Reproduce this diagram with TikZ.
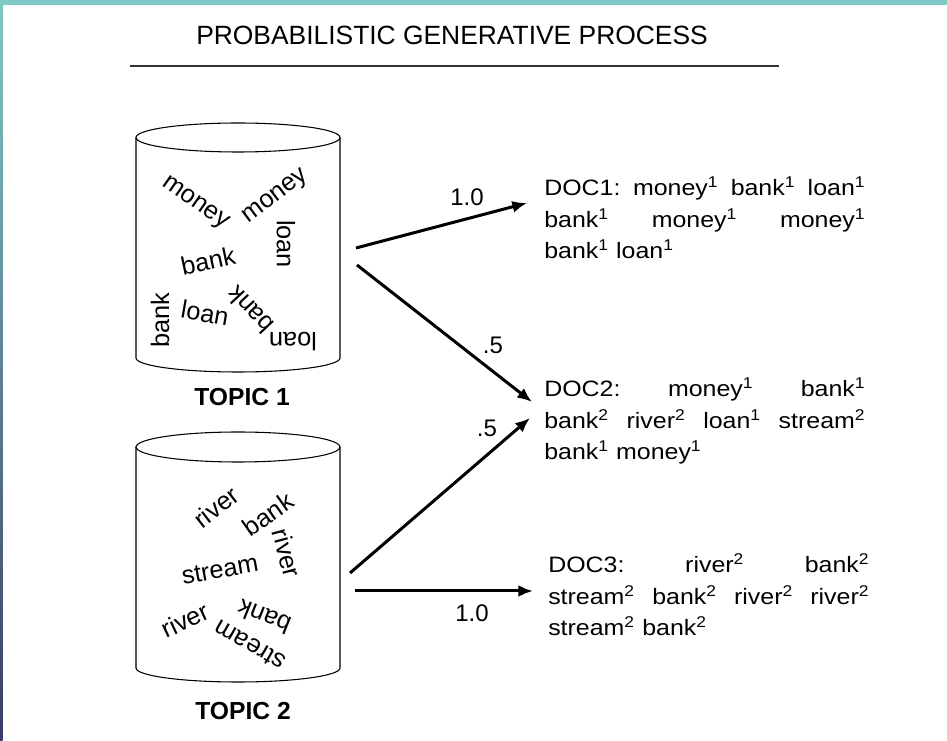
\documentclass[tikz,border=0pt]{standalone}
\usepackage{fontspec}
\setmainfont{Liberation Sans}
\newfontfamily\docfont[FakeStretch=1.12]{Liberation Sans}
\usetikzlibrary{arrows.meta}
\definecolor{frameteal}{RGB}{127,201,196}
\definecolor{framedark}{RGB}{58,58,104}
\newcommand{\tsup}[1]{\textsuperscript{#1}}
\newcommand{\docline}[1]{\makebox[240.75pt][l]{#1}}
\tikzset{
  word/.style={inner sep=0.75pt, font=\fontsize{19}{19}\selectfont},
  doc/.style={anchor=base west, inner sep=0pt, text width=240.75pt, font=\docfont\fontsize{16.7}{23.6}\selectfont},
  prob/.style={inner sep=0.75pt, font=\fontsize{18}{18}\selectfont},
  topic/.style={inner sep=0.75pt, font=\fontsize{18.5}{18.5}\selectfont\bfseries},
  flow/.style={line width=2.25pt, -{Latex[length=11pt,width=9pt]}},
  can/.style={line width=0.8pt}
}
\begin{document}
\begin{tikzpicture}[x=0.75pt,y=0.75pt,yscale=-1,xscale=1]
\useasboundingbox (0,0) rectangle (947,741);

%Frame
\fill [frameteal] (0,0) rectangle (947,5);
\shade [top color=frameteal, bottom color=framedark] (0,0) rectangle (2.5,741);

% Text Node
\draw (452,35) node (title) [inner sep=0.75pt, font=\fontsize{19.8}{19.8}\selectfont] {PROBABILISTIC GENERATIVE PROCESS};
%Straight Lines
\draw [line width=1.5pt, black!80] (130,66) -- (779,66);

%Shape: Can
\draw [can] (136,137.5) -- (136,358) arc (180:0:102 and 14) -- (340,137.5);
\draw [can] (238,137.5) ellipse (102 and 14.5);
%Shape: Can
\draw [can] (136,447) -- (136,668) arc (180:0:102 and 14) -- (340,447);
\draw [can] (238,447) ellipse (102 and 15);

% Text Node
\draw (195,204) node (m1) [word, rotate=-35] {money};
\draw (276,197) node (m2) [word, rotate=37] {money};
\draw (286,244) node (l1) [word, rotate=-90] {loan};
\draw (208,261) node (b1) [word, rotate=12] {bank};
\draw (160,320) node (b2) [word, rotate=90] {bank};
\draw (205,313) node (l2) [word, rotate=-10] {loan};
\draw (250,310) node (b3) [word, rotate=133] {bank};
\draw (293,342) node (l3) [word, rotate=180] {loan};
\draw (242,397) node (topic1) [topic] {TOPIC 1};

% Text Node
\draw (216,507) node (r1) [word, rotate=38] {river};
\draw (268,514) node (b4) [word, rotate=35] {bank};
\draw (287,553) node (r2) [word, rotate=-75] {river};
\draw (220,570) node (s1) [word, rotate=10] {stream};
\draw (185,620) node (r3) [word, rotate=25] {river};
\draw (264,617) node (b5) [word, rotate=158] {bank};
\draw (250,645) node (s2) [word, rotate=150] {stream};
\draw (243,711) node (topic2) [topic] {TOPIC 2};

% Text Node
\draw (544,196) node (doc1) [doc] {\docline{DOC1:\hfill money\tsup{1}\hfill bank\tsup{1}\hfill loan\tsup{1}}\\
\docline{bank\tsup{1}\hfill money\tsup{1}\hfill money\tsup{1}}\\
bank\tsup{1} loan\tsup{1}};
\draw (544,397) node (doc2) [doc] {\docline{DOC2:\hfill money\tsup{1}\hfill bank\tsup{1}}\\
\docline{bank\tsup{2}\hfill river\tsup{2}\hfill loan\tsup{1}\hfill stream\tsup{2}}\\
bank\tsup{1} money\tsup{1}};
\draw (548,573) node (doc3) [doc] {\docline{DOC3:\hfill river\tsup{2}\hfill bank\tsup{2}}\\
\docline{stream\tsup{2}\hfill bank\tsup{2}\hfill river\tsup{2}\hfill river\tsup{2}}\\
stream\tsup{2} bank\tsup{2}};

%Straight Lines
\coordinate (t1a) at (356,248);
\coordinate (t1b) at (357,265);
\coordinate (t2a) at (350,573);
\coordinate (t2b) at (355,591);
\coordinate (d1) at (527,203);
\coordinate (d2a) at (532,402);
\coordinate (d2b) at (530,418);
\coordinate (d3) at (533,591);
\draw [flow] (t1a) -- (d1);
\draw [flow] (t1b) -- (d2a);
\draw [flow] (t2a) -- (d2b);
\draw [flow] (t2b) -- (d3);

% Text Node
\draw (467,197) node (p1) [prob] {1.0};
\draw (493,345) node (p2) [prob] {.5};
\draw (487,428) node (p3) [prob] {.5};
\draw (472,613) node (p4) [prob] {1.0};

\end{tikzpicture}
\end{document}
